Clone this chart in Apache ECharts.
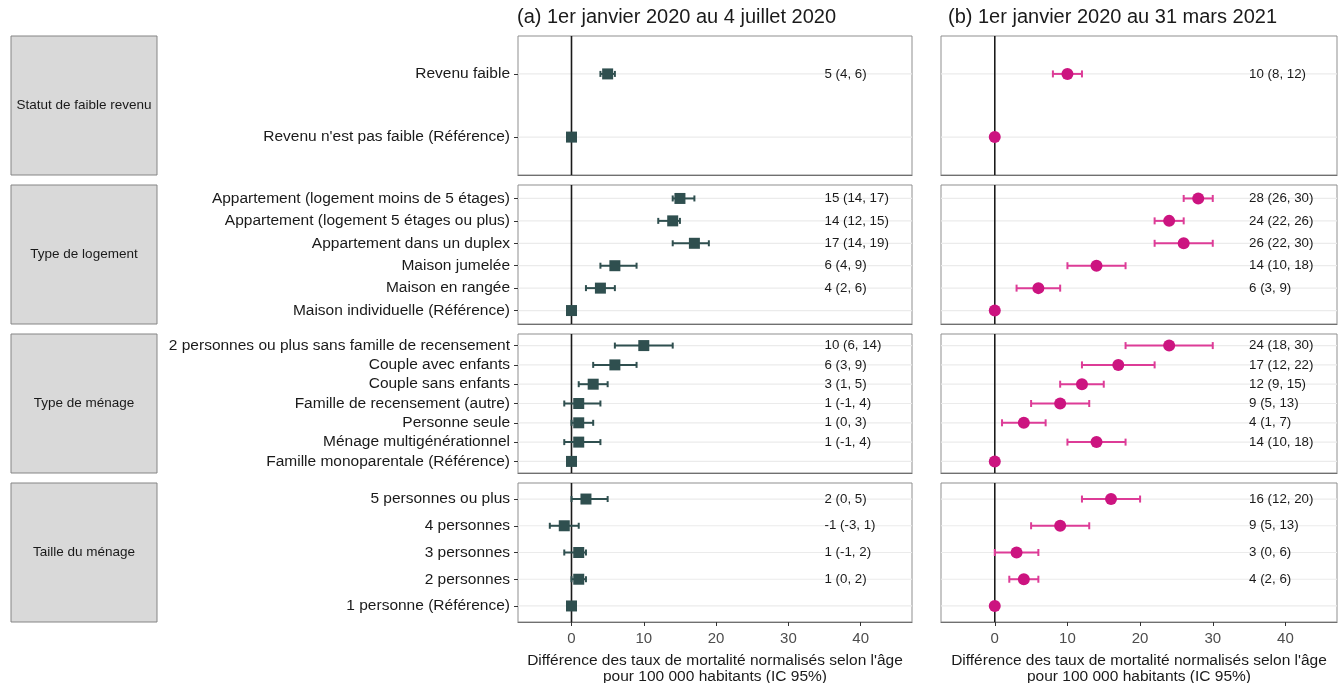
<!DOCTYPE html>
<html>
<head>
<meta charset="utf-8">
<script src="https://cdn.jsdelivr.net/npm/echarts@6/dist/echarts.min.js"></script>
<style>
  html, body { margin: 0; padding: 0; background: #ffffff; }
  #chart { width: 1342px; height: 683px; }
</style>
</head>
<body>
<div id="chart"></div>
<script>
// Panel titles (two study periods)
const periodTitles = ["(a) 1er janvier 2020 au 4 juillet 2020", "(b) 1er janvier 2020 au 31 mars 2021"];

// Facet (strip) labels, one per row of panels
const groupNames = ["Statut de faible revenu", "Type de logement", "Type de ménage", "Taille du ménage"];

// Categories of each group, top to bottom
const revenuCategories = ["Revenu faible", "Revenu n'est pas faible (Référence)"];
const logementCategories = [
  "Appartement (logement moins de 5 étages)",
  "Appartement (logement 5 étages ou plus)",
  "Appartement dans un duplex",
  "Maison jumelée",
  "Maison en rangée",
  "Maison individuelle (Référence)"
];
const menageCategories = [
  "2 personnes ou plus sans famille de recensement",
  "Couple avec enfants",
  "Couple sans enfants",
  "Famille de recensement (autre)",
  "Personne seule",
  "Ménage multigénérationnel",
  "Famille monoparentale (Référence)"
];
const tailleCategories = ["5 personnes ou plus", "4 personnes", "3 personnes", "2 personnes", "1 personne (Référence)"];

// [estimate, lower 95% CI, upper 95% CI]; reference categories have no interval
const revenuPeriodA = [[5, 4, 6], [0, null, null]];
const revenuPeriodB = [[10, 8, 12], [0, null, null]];
const logementPeriodA = [[15, 14, 17], [14, 12, 15], [17, 14, 19], [6, 4, 9], [4, 2, 6], [0, null, null]];
const logementPeriodB = [[28, 26, 30], [24, 22, 26], [26, 22, 30], [14, 10, 18], [6, 3, 9], [0, null, null]];
const menagePeriodA = [[10, 6, 14], [6, 3, 9], [3, 1, 5], [1, -1, 4], [1, 0, 3], [1, -1, 4], [0, null, null]];
const menagePeriodB = [[24, 18, 30], [17, 12, 22], [12, 9, 15], [9, 5, 13], [4, 1, 7], [14, 10, 18], [0, null, null]];
const taillePeriodA = [[2, 0, 5], [-1, -3, 1], [1, -1, 2], [1, 0, 2], [0, null, null]];
const taillePeriodB = [[16, 12, 20], [9, 5, 13], [3, 0, 6], [4, 2, 6], [0, null, null]];

// X axis
const xTicks = [0, 10, 20, 30, 40];
const xAxisTitle = "Différence des taux de mortalité normalisés selon l'âge\npour 100 000 habitants (IC 95%)";
const xMin = -7.4, xMax = 47.1;
const labelColumnX = 35;   // x (data units) where the "est (lo, hi)" text column starts

const rowCategories = [revenuCategories, logementCategories, menageCategories, tailleCategories];
const rowData = [
  [revenuPeriodA, revenuPeriodB],
  [logementPeriodA, logementPeriodB],
  [menagePeriodA, menagePeriodB],
  [taillePeriodA, taillePeriodB]
];

// Layout
const FONT = "'Liberation Sans', Arial, sans-serif";
const rowTops = [36, 185, 334, 483];
const rowHeight = 139;
const colLefts = [518, 941];
const colWidths = [394, 396];
const stripLeft = 11, stripWidth = 146;

const styles = [
  { symbol: 'rect', size: 11, point: '#2F4F4F', bar: '#2F4F4F', cap: 6 },
  { symbol: 'circle', size: 12, point: '#CC1480', bar: '#DD3C97', cap: 7 }
];

const grids = [], xAxes = [], yAxes = [], series = [], graphics = [];

rowCategories.forEach((cats, r) => {
  const n = cats.length;
  const idx = cats.map((_, i) => i);
  const isBottom = r === rowCategories.length - 1;

  // strip label
  graphics.push({
    type: 'rect', silent: true,
    shape: { x: stripLeft, y: rowTops[r], width: stripWidth, height: rowHeight },
    style: { fill: '#d9d9d9', stroke: '#858585', lineWidth: 1 }
  });
  graphics.push({
    type: 'text', silent: true,
    x: stripLeft + stripWidth / 2, y: rowTops[r] + rowHeight / 2,
    style: { text: groupNames[r], align: 'center', verticalAlign: 'middle', font: '13.5px ' + FONT, fill: '#1a1a1a' }
  });

  [0, 1].forEach(c => {
    const g = grids.length;
    const st = styles[c];
    const rows = rowData[r][c];
    grids.push({
      left: colLefts[c], top: rowTops[r], width: colWidths[c], height: rowHeight,
      outerBoundsMode: 'none', containLabel: false,
      show: true, backgroundColor: '#ffffff', borderColor: '#8f8f8f', borderWidth: 1
    });
    xAxes.push({
      gridIndex: g, type: 'value', min: xMin, max: xMax,
      splitLine: { show: false },
      axisLine: { show: true, onZero: false, lineStyle: { color: '#707070', width: 1.2 } },
      axisTick: { show: isBottom, customValues: xTicks, length: 4, lineStyle: { color: '#333' } },
      axisLabel: { show: isBottom, customValues: xTicks, fontSize: 15, color: '#4d4d4d', fontFamily: FONT, margin: 9 },
      name: isBottom ? xAxisTitle : '',
      nameLocation: 'middle', nameGap: 31,
      nameTextStyle: { fontSize: 15.5, lineHeight: 16, color: '#1a1a1a', fontFamily: FONT }
    });
    yAxes.push({
      gridIndex: g, type: 'value', inverse: true, min: -0.6, max: n - 0.4,
      splitLine: { show: false },
      axisLine: { show: false, onZero: false },
      axisTick: { show: c === 0, customValues: idx, length: 4, lineStyle: { color: '#333' } },
      axisLabel: {
        show: c === 0, customValues: idx, fontSize: 15.5, color: '#1a1a1a', fontFamily: FONT, margin: 8,
        formatter: v => cats[Math.round(v)]
      }
    });

    // horizontal grid lines at each category
    series.push({
      type: 'custom', xAxisIndex: g, yAxisIndex: g, z: 1, silent: true, clip: false,
      data: idx.map(i => [0, i]),
      renderItem: (params, api) => {
        const cs = params.coordSys;
        const y = api.coord([0, api.value(1)])[1];
        return { type: 'line', shape: { x1: cs.x, y1: y, x2: cs.x + cs.width, y2: y },
                 style: { stroke: '#ebebeb', lineWidth: 1.2 } };
      }
    });
    // zero reference line
    series.push({
      type: 'custom', xAxisIndex: g, yAxisIndex: g, z: 2, silent: true, clip: false,
      data: [[0, 0]],
      renderItem: (params, api) => {
        const cs = params.coordSys;
        const x = api.coord([api.value(0), 0])[0];
        return { type: 'line', shape: { x1: x, y1: cs.y, x2: x, y2: cs.y + cs.height },
                 style: { stroke: '#1a1a1a', lineWidth: 1.6 } };
      }
    });
    // confidence intervals
    const ciData = [];
    rows.forEach((d, i) => { if (d[1] !== null) ciData.push([d[1], d[2], i]); });
    series.push({
      type: 'custom', xAxisIndex: g, yAxisIndex: g, z: 3, silent: true,
      data: ciData,
      encode: { x: [0, 1], y: 2 },
      renderItem: (params, api) => {
        const p1 = api.coord([api.value(0), api.value(2)]);
        const p2 = api.coord([api.value(1), api.value(2)]);
        const h = st.cap / 2;
        const s = { stroke: st.bar, lineWidth: 2 };
        return { type: 'group', children: [
          { type: 'line', shape: { x1: p1[0], y1: p1[1], x2: p2[0], y2: p2[1] }, style: s },
          { type: 'line', shape: { x1: p1[0], y1: p1[1] - h, x2: p1[0], y2: p1[1] + h }, style: s },
          { type: 'line', shape: { x1: p2[0], y1: p2[1] - h, x2: p2[0], y2: p2[1] + h }, style: s }
        ] };
      }
    });
    // point estimates
    series.push({
      type: 'scatter', xAxisIndex: g, yAxisIndex: g, z: 4, silent: true,
      symbol: st.symbol, symbolSize: st.size,
      itemStyle: { color: st.point, opacity: 1 },
      data: rows.map((d, i) => [d[0], i])
    });
    // "est (lo, hi)" text column
    const texts = [], textRows = [];
    rows.forEach((d, i) => { if (d[1] !== null) { texts.push(`${d[0]} (${d[1]}, ${d[2]})`); textRows.push([labelColumnX, i]); } });
    series.push({
      type: 'custom', xAxisIndex: g, yAxisIndex: g, z: 5, silent: true,
      data: textRows,
      renderItem: (params, api) => {
        const p = api.coord([api.value(0), api.value(1)]);
        return { type: 'text', x: p[0], y: p[1],
                 style: { text: texts[params.dataIndex], align: 'left', verticalAlign: 'middle',
                          font: '13.3px ' + FONT, fill: '#1a1a1a' } };
      }
    });
  });
});

const chart = echarts.init(document.getElementById('chart'), null, { renderer: 'canvas' });
chart.setOption({
  animation: false,
  backgroundColor: '#ffffff',
  title: periodTitles.map((t, c) => ({
    text: t, left: c === 0 ? 512 : 943, top: 2,
    textStyle: { fontSize: 20, fontWeight: 'normal', color: '#1a1a1a', fontFamily: FONT }
  })),
  grid: grids,
  xAxis: xAxes,
  yAxis: yAxes,
  series: series,
  graphic: graphics
});
</script>
</body>
</html>
